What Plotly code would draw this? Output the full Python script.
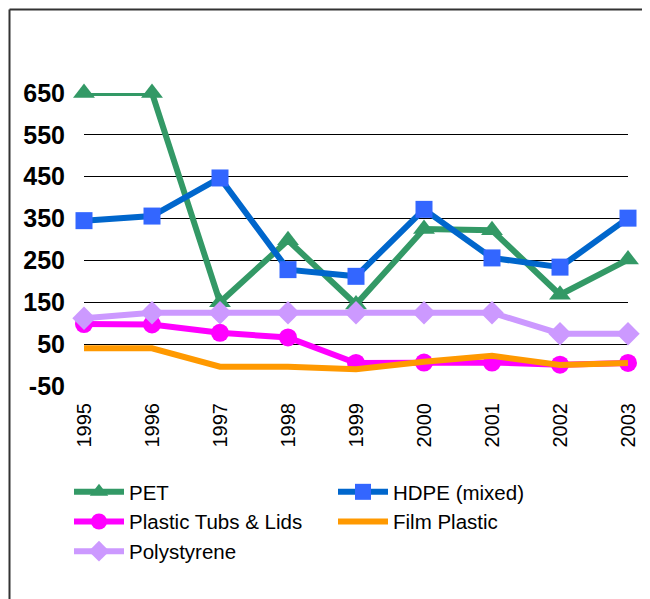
import plotly.graph_objects as go

years = ["1995", "1996", "1997", "1998", "1999", "2000", "2001", "2002", "2003"]
pet = [650, 650, 150, 298, 145, 325, 322, 168, 252]
hdpe = [345, 356, 447, 228, 212, 372, 256, 234, 351]
tubs = [98, 97, 77, 66, 5, 6, 6, 1, 5]
film = [40, 40, -4, -4, -10, 8, 22, 0, 5]
polystyrene = [112, 125, 125, 125, 125, 125, 125, 75, 75]
y_ticks = [-50, 50, 150, 250, 350, 450, 550, 650]
y_labels = ["-50", "50", "150", "250", "350", "450", "550", "650"]

FONT = "Liberation Sans, Arial, sans-serif"

series = [
    ("PET", pet, "#339966", "#339966", "triangle-up", 19),
    ("HDPE (mixed)", hdpe, "#0066CC", "#3366FF", "square", 17),
    ("Plastic Tubs & Lids", tubs, "#FF00FF", "#FF00FF", "circle", 18),
    ("Film Plastic", film, "#FF9900", "#FF9900", None, 0),
    ("Polystyrene", polystyrene, "#CC99FF", "#CC99FF", "diamond", 18),
]

fig = go.Figure()
for name, vals, line_col, mark_col, symbol, size in series:
    fig.add_trace(go.Scatter(
        x=years, y=vals, name=name,
        mode="lines+markers" if symbol else "lines",
        line=dict(color=line_col, width=6),
        marker=dict(symbol=symbol or "circle", size=size, color=mark_col),
        cliponaxis=False,
    ))

# page body has an 8px margin, so work in figure pixels = screen pixels - 8
OFF = 8
W, H = 650 - OFF, 599 - OFF
left, right, top, bottom = 84 - OFF, 628 - OFF, 93 - OFF, 386 - OFF
pw, ph = right - left, bottom - top
px_x = lambda v: (v - OFF - left) / pw
px_y = lambda v: (bottom - (v - OFF)) / ph

# chart border (only top and left edges show in the frame)
edge = OFF + 1.5
fig.add_shape(type="line", xref="paper", yref="paper",
              x0=px_x(edge), x1=px_x(650), y0=px_y(edge), y1=px_y(edge),
              line=dict(color="#333333", width=2))
fig.add_shape(type="line", xref="paper", yref="paper",
              x0=px_x(edge), x1=px_x(edge), y0=px_y(edge), y1=px_y(599),
              line=dict(color="#333333", width=2))

fig.update_layout(
    width=W, height=H,
    margin=dict(l=left, r=W - right, t=top, b=H - bottom),
    paper_bgcolor="white", plot_bgcolor="white",
    font=dict(family=FONT, color="black"),
    showlegend=True,
    legend=dict(
        orientation="h", x=px_x(69), xanchor="left", y=px_y(472), yanchor="top",
        itemwidth=50, entrywidth=199, font=dict(size=20.5, family=FONT),
        bgcolor="rgba(0,0,0,0)", tracegroupgap=0,
    ),
    xaxis=dict(
        type="category", range=[0, 8], showgrid=False, showline=False,
        tickangle=-90, tickfont=dict(size=20, family=FONT),
        ticks="", ticklabelstandoff=12, zeroline=False,
    ),
    yaxis=dict(
        range=[-50, 650], tickvals=y_ticks, ticktext=y_labels,
        showgrid=True, gridcolor="black", gridwidth=1,
        showline=False, zeroline=False, ticks="",
        tickfont=dict(size=25, family=FONT, weight="bold"),
        ticklabelstandoff=18,
    ),
)

fig.write_html("out.html", config={"displayModeBar": False})
